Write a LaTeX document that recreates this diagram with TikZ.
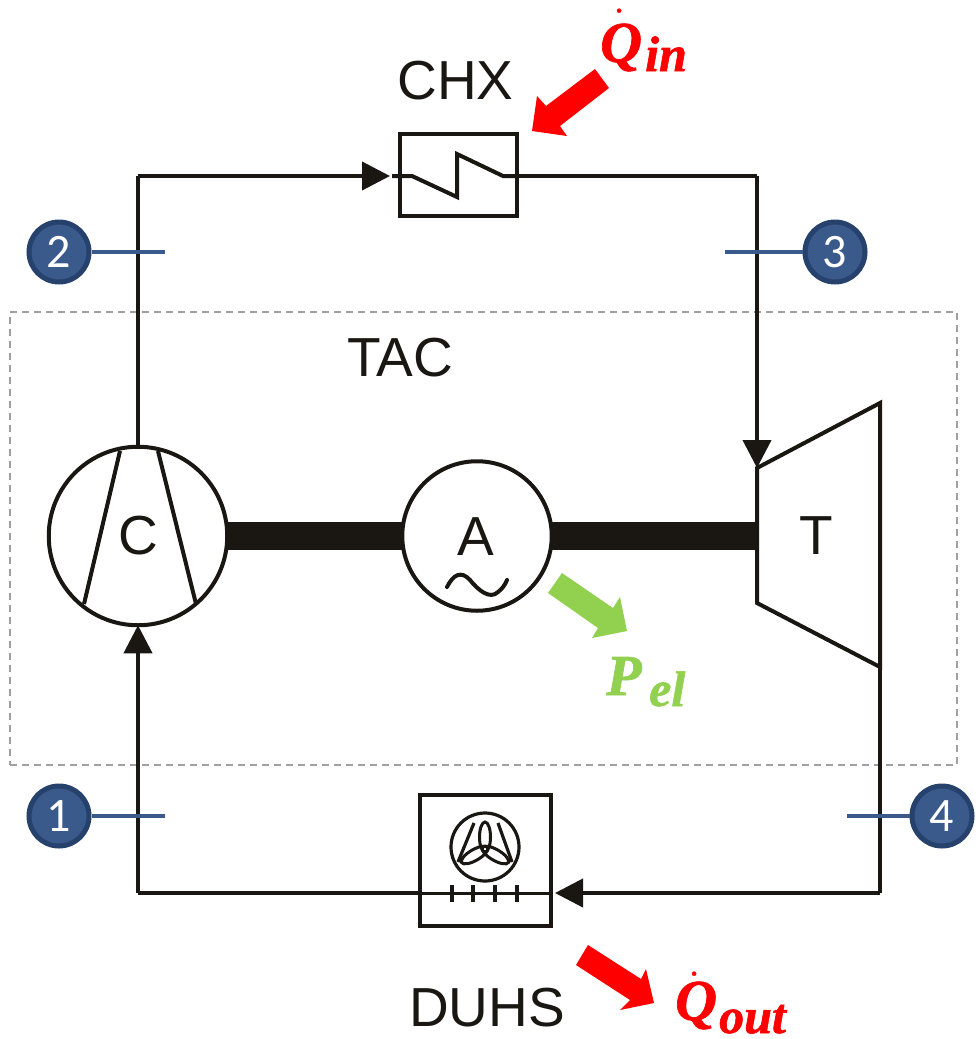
\documentclass[tikz,border=0pt]{standalone}
\usepackage{fontspec}
\setmainfont{Liberation Sans}
\newfontfamily\qfont[BoldItalicFeatures={FakeBold=1.2}]{Liberation Serif}
\newfontfamily\numfont{Carlito}
\usetikzlibrary{arrows.meta}
\definecolor{ink}{HTML}{1A1712}
\definecolor{badge}{HTML}{3A5A8C}
\definecolor{badgeedge}{HTML}{26416B}
\definecolor{leaf}{HTML}{92D050}
\definecolor{tacgray}{HTML}{A0A0A0}
\newcommand{\qdot}[1]{\rlap{\hspace{16pt}\raisebox{#1}{\fontsize{16}{16}\selectfont •}}Q}
\tikzset{
 pipe/.style={draw=ink,line width=4pt},
 flow/.style={pipe,-{Triangle[length=28pt,width=28pt]}},
 part/.style={draw=ink,line width=4pt,fill=white,inner sep=0pt,outer sep=0pt},
 thin part/.style={draw=ink,line width=4pt},
 lab/.style={font=\fontsize{55}{55}\selectfont,text=ink,inner sep=0pt},
 numdot/.style={circle,draw=badgeedge,line width=5pt,fill=badge,minimum size=60pt,inner sep=0pt,text=white,font=\numfont\fontsize{48}{48}\selectfont},
 tick/.style={draw=badge,line width=4.5pt},
 bigred/.style={fill=red,draw=none},
 biggreen/.style={fill=leaf,draw=none},
 qlab/.style={inner sep=0pt,anchor=base west,font=\qfont\bfseries\itshape\fontsize{58}{58}\selectfont},
 qsub/.style={qlab,font=\qfont\bfseries\itshape\fontsize{50}{50}\selectfont}
}
\begin{document}
\begin{tikzpicture}[x=1pt,y=-1pt]
\useasboundingbox (0,0) rectangle (975,1039);
% TAC box
\node[draw=tacgray,dash pattern=on 7pt off 5pt,line width=1.7pt,inner sep=0pt,outer sep=0pt,minimum width=947pt,minimum height=453pt] (tac) at (483.5,538.5) {};
\node[lab] (taclab) at (400,358) {TAC};
% corner coordinates
\coordinate (tl) at (138,176);
\coordinate (tr) at (757,176);
\coordinate (br) at (880,893);
\coordinate (bl) at (138,893);
\coordinate (t1) at (757,468);
\coordinate (t2) at (880,403);
\coordinate (t3) at (880,667);
\coordinate (t4) at (757,603);
% Components
\node[part,circle,minimum size=178.5pt] (comp) at (138,536) {};
\node[part,circle,minimum size=149.5pt] (alt) at (477,536) {};
\draw[draw=ink,line width=27.5pt] (comp.east) -- (alt.west);
\draw[draw=ink,line width=27.5pt] (alt.east) -- (757,536) coordinate (shaftend);
\draw[part,fill=white] (t1) -- (t2) -- (t3) -- (t4) -- cycle;
\draw[thin part] (84,604) -- (120,451);
\draw[thin part] (196,604) -- (158,451);
\node[lab] (clab) at (138,536) {C};
\node[lab] (alab) at (476,537) {A};
\node[lab] (tlab) at (816,536) {T};
\draw[thin part,line cap=round] (447,587) .. controls (453,575) and (461,570) .. (470,580) .. controls (478,590) and (490,600) .. (498,592) .. controls (502,589) and (505,585) .. (507,580);
% CHX
\node[part,minimum width=117pt,minimum height=82pt] (chx) at (458.5,175) {};
\node[lab] (chxlab) at (455.5,81) {CHX};
\coordinate (z0) at (392,176);
\coordinate (z1) at (412,176);
\coordinate (z2) at (457,197);
\coordinate (z3) at (457,154);
\coordinate (z4) at (503,176);
\draw[thin part] (z0) -- (z1) -- (z2) -- (z3) -- (z4) -- (chx.east |- z4);
% DUHS
\node[part,minimum width=131pt,minimum height=131pt] (duhs) at (485.5,860) {};
\node[lab] (duhslab) at (487,1008) {DUHS};
\node[draw=ink,line width=3.2pt,circle,minimum size=68pt,inner sep=0pt] (fan) at (485,847) {};
\draw[thin part,line width=3.2pt] (458,862) -- (474,823);
\draw[thin part,line width=3.2pt] (512,862) -- (498,823);
\foreach \a in {0,120,240}
  \draw[draw=ink,line width=3pt,rotate around={\a:(485,849)}] (485,837) ellipse [x radius=5.5pt,y radius=15pt];
\draw[draw=ink,line width=3pt] (420,893) -- (551,893);
\foreach \x in {452,473,495,517}
  \draw[draw=ink,line width=3.6pt] (\x,885) -- (\x,902);
% Pipes
\draw[pipe] (comp.north) -- (tl);
\draw[flow,shorten >=10pt] (tl) -- (chx.west |- tl);
\draw[pipe] (chx.east |- tr) -- (tr);
\draw[flow] (tr) -- (t1);
\draw[pipe] (t3) -- (br);
\draw[flow,shorten >=4pt] (br) -- (duhs.east |- br);
\draw[pipe] (duhs.west |- bl) -- (bl);
\draw[flow] (bl) -- (comp.south);
% Badges
\coordinate (e2) at (165,252);
\coordinate (e3) at (725,252);
\coordinate (e1) at (165,816);
\coordinate (e4) at (847,816);
\node[numdot] (n2) at (59,252) {2};
\node[numdot] (n3) at (835,252) {3};
\node[numdot] (n1) at (59,816) {1};
\node[numdot] (n4) at (942,816) {4};
\draw[tick] (n2) -- (e2);
\draw[tick] (n3) -- (e3);
\draw[tick] (n1) -- (e1);
\draw[tick] (n4) -- (e4);
% Energy arrows
\fill[bigred] (595,69) -- (609,88) -- (560,126) -- (567,136) -- (532,131) -- (537,96) -- (546,106) -- cycle;
\fill[bigred] (588,945) -- (576,965) -- (630,1000) -- (620,1010) -- (654,1003) -- (646,969) -- (641,979) -- cycle;
\fill[biggreen] (562,573) -- (548,593) -- (598,628) -- (592,638) -- (627,631) -- (620,597) -- (613,608) -- cycle;
% Math labels
\node[qlab,text=red] (qin) at (600,62) {\qdot{46pt}};
\node[qsub,text=red] (qinsub) at (645,71) {in};
\node[qlab,text=red] (qout) at (675,1020) {\qdot{41pt}};
\node[qsub,text=red] (qoutsub) at (719,1033) {out};
\node[qlab,text=leaf] (pel) at (606,695) {P};
\node[qsub,text=leaf] (pelsub) at (649,706) {el};
\end{tikzpicture}
\end{document}
